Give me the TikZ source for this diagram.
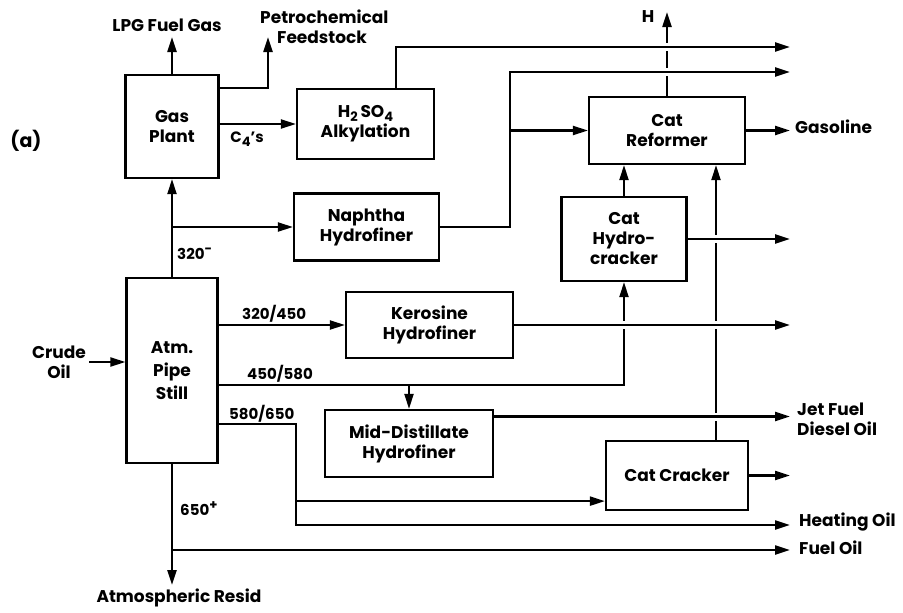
\documentclass[tikz,border=0pt]{standalone}
\usepackage{fontspec}
\setmainfont{Poppins}
\usetikzlibrary{arrows.meta,positioning,calc}

\newcommand{\lowsub}[1]{\raisebox{-4pt}{\fontsize{13}{13}\selectfont #1}}
\newcommand{\highsup}[1]{\raisebox{6pt}{\fontsize{13}{13}\selectfont #1}}

\begin{document}
\begin{tikzpicture}[x=1pt,y=-1pt,
    unit/.style={draw,line width=2.2pt,inner sep=0pt,align=center,
      font=\bfseries\fontsize{17}{20}\selectfont},
    flow/.style={line width=2.2pt,-{Triangle[length=15pt,width=9pt]}},
    hop/.style={preaction={draw=white,line width=8pt,-,shorten <=8pt,shorten >=8pt}},
    lbl/.style={font=\bfseries\fontsize{17}{20}\selectfont,inner sep=0pt,align=left},
    cut/.style={font=\bfseries\fontsize{15}{18}\selectfont,inner sep=0pt}]

  \useasboundingbox (0,0) rectangle (903,613);

  % process units
  \node[unit,minimum width=93pt,minimum height=103pt] (gas) at (172,126.5) {Gas\\Plant};
  \node[unit,minimum width=137pt,minimum height=70pt] (alky) at (365.5,124) {H\lowsub{2}\,SO\lowsub{4}\\Alkylation};
  \node[unit,minimum width=145pt,minimum height=67pt] (naph) at (366.5,227) {Naphtha\\Hydrofiner};
  \node[unit,minimum width=91pt,minimum height=185pt] (still) at (172,370.5) {Atm.\\[3pt]Pipe\\[3pt]Still};
  \node[unit,minimum width=167pt,minimum height=66pt] (kero) at (429.5,325) {Kerosine\\Hydrofiner};
  \node[unit,minimum width=168pt,minimum height=67pt] (mid) at (409,443.5) {Mid-Distillate\\Hydrofiner};
  \node[unit,minimum width=156pt,minimum height=67pt] (refm) at (667,130.5) {Cat\\Reformer};
  \node[unit,minimum width=125pt,minimum height=84pt] (hcrk) at (624,239) {Cat\\Hydro-\\cracker};
  \node[unit,minimum width=142pt,minimum height=69pt] (ccrk) at (677,475.5) {Cat Cracker};

  % free ends
  \coordinate (rim) at (790,0);
  \coordinate (lpg) at (0,37);
  \coordinate (petro) at (268,37);
  \coordinate (hout) at (0,12);
  \coordinate (nj) at (510,72);
  \coordinate (out1) at (790,47);
  \coordinate (crude) at (89,362);
  \coordinate (r450) at (0,385);
  \coordinate (r580) at (296,424);
  \coordinate (rheat) at (790,525);
  \coordinate (rfuel) at (790,550);
  \coordinate (resid) at (0,585);
  \coordinate (alkup) at ([xshift=30.5pt]alky.north);
  \coordinate (midout) at ([yshift=27pt]mid.east);
  \coordinate (ccin) at ([yshift=10pt]ccrk.south west);
  \coordinate (ccup) at ([xshift=39pt]ccrk.north);

  % lines that get crossed
  \draw[flow] (refm.north) -- (refm.north |- hout);
  \draw[flow] (hcrk.north) -- (hcrk.north |- refm.south);
  \draw[flow] (ccup) -- (ccup |- refm.south);
  \draw[flow] (still.east |- r450) -| (hcrk.south);

  % gas plant
  \draw[flow] (still.north) -- (gas.south);
  \draw[flow] (gas.north) -- (gas.north |- lpg);
  \draw[flow] ([yshift=-14pt]gas.north east) -| (petro);
  \draw[flow] (gas.east |- alky.west) -- (alky.west);
  \draw[flow,hop] (alkup) |- (out1);

  % naphtha
  \draw[flow] (still.north |- naph.west) -- (naph.west);
  \draw[flow,hop] (naph.east) -| (nj) -- (nj -| rim);
  \draw[flow] (nj |- refm.west) -- (refm.west);
  \draw[flow] (refm.east) -- (refm.east -| rim);

  % side cuts
  \draw[flow] (crude) -- (crude -| still.west);
  \draw[flow] (still.east |- kero.west) -- (kero.west);
  \draw[flow] (mid.north |- r450) -- (mid.north);
  \draw[flow,hop] (kero.east) -- (kero.east -| rim);
  \draw[flow,hop] (hcrk.east) -- (hcrk.east -| rim);
  \draw[flow,hop] (midout) -- (midout -| rim);
  \draw[flow] (still.east |- r580) -- (r580) |- (rheat);
  \draw[flow] (r580 |- ccin) -- (ccin);
  \draw[flow] (ccrk.east) -- (ccrk.east -| rim);
  \draw[flow] (still.south) -- (still.south |- resid);
  \draw[flow] (still.south |- rfuel) -- (rfuel);

  % labels
  \node[font=\bfseries\fontsize{19}{19}\selectfont] (tag) at (26,141) {(a)};
  \node[lbl] (lpgtxt) at (167,25) {LPG Fuel Gas};
  \node[lbl,anchor=west] (petrotxt) at (260,27) {Petrochemical\\\hspace*{17pt}Feedstock};
  \node[lbl] (htxt) at (648,17) {H};
  \node[cut] (c4txt) at (247,139) {C\lowsub{4}'s};
  \node[lbl,anchor=west] (gastxt) at (795,127) {Gasoline};
  \node[cut,anchor=west] (t320) at (177,254) {320\highsup{-}};
  \node[lbl,align=center,anchor=east] (crudetxt) at (86,362.5) {Crude\\Oil};
  \node[cut,anchor=west] (t320450) at (242,314) {320/450};
  \node[cut,anchor=west] (t450580) at (247,374) {450/580};
  \node[cut,anchor=west] (t580650) at (229,414) {580/650};
  \node[cut,anchor=west] (t650) at (180,509) {650\highsup{+}};
  \node[lbl] (residtxt) at (179,598) {Atmospheric Resid};
  \node[lbl,anchor=west] (jettxt) at (797,419) {Jet Fuel\\Diesel Oil};
  \node[lbl,anchor=west] (heattxt) at (799,522) {Heating Oil};
  \node[lbl,anchor=west] (fueltxt) at (799,548) {Fuel Oil};
\end{tikzpicture}
\end{document}
